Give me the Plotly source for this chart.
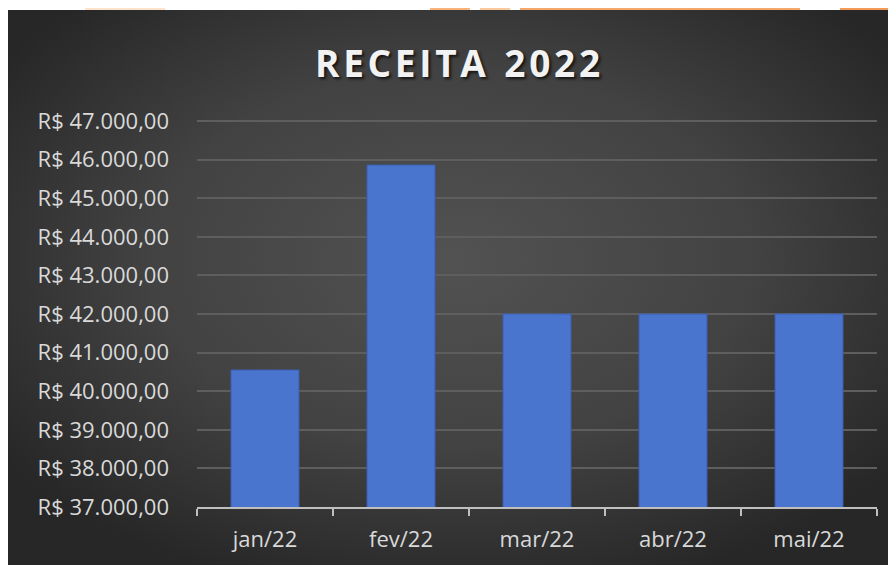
import base64
import plotly.graph_objects as go

# ---- data ----
months = ["jan/22", "fev/22", "mar/22", "abr/22", "mai/22"]
receita = [40550, 45860, 42000, 42000, 42000]
title_text = "RECEITA 2022"
y_min, y_max, y_step = 37000, 47000, 1000

# page has an 8px body margin; work in reference pixel coords and shift
OFF = 8
PAD = 4  # px of headroom above the top gridline
W, H = 896 - OFF, 565 - OFF
L, R, T, B = 197 - OFF, 896 - 877, 121 - OFF - PAD, 565 - 507
pw, ph = W - L - R, H - T - B
y_top = y_max + PAD * (y_max - y_min) / (ph - PAD)


def px_x(x):
    return (x - OFF - L) / pw


def px_y(y):
    return (H - B - (y - OFF)) / ph


svg = (
    '<svg xmlns="http://www.w3.org/2000/svg" width="888" height="555" preserveAspectRatio="none">'
    '<defs><radialGradient id="g" cx="50%" cy="45%" r="62%" fx="50%" fy="45%">'
    '<stop offset="0%" stop-color="#525252"/>'
    '<stop offset="55%" stop-color="#424242"/>'
    '<stop offset="100%" stop-color="#272727"/>'
    '</radialGradient></defs>'
    '<rect width="888" height="555" fill="url(#g)"/></svg>'
)
src = "data:image/svg+xml;base64," + base64.b64encode(svg.encode()).decode()

fig = go.Figure()
fig.add_trace(go.Bar(
    x=months, y=receita,
    marker=dict(color="#4a75cf", line=dict(color="#3a5fae", width=1)),
    hoverinfo="x+y",
))

shapes = []
deco = [
    (85, 8, 165, 10, "#fde2cc"),
    (430, 8, 470, 10, "#f9b27a"),
    (480, 8, 510, 10, "#fbc79c"),
    (520, 8, 800, 10, "#f7a76a"),
    (840, 8, 896, 10, "#f59a55"),
]
for x0, y0, x1, y1, c in deco:
    shapes.append(dict(type="rect", xref="paper", yref="paper",
                       x0=px_x(x0), x1=px_x(x1), y0=px_y(y1), y1=px_y(y0),
                       fillcolor=c, line=dict(width=0), layer="below"))

spaced = "\u200a".join(list(title_text)).replace("\u200a \u200a", "\u2002")

fig.update_layout(
    width=W, height=H,
    margin=dict(l=L, r=R, t=T, b=B),
    paper_bgcolor="white",
    plot_bgcolor="rgba(0,0,0,0)",
    separators=",.",
    bargap=0.5,
    showlegend=False,
    shapes=shapes,
    images=[dict(source=src, xref="paper", yref="paper",
                 x=px_x(8), y=px_y(10), sizex=px_x(896) - px_x(8),
                 sizey=px_y(10) - px_y(565), xanchor="left", yanchor="top",
                 sizing="stretch", layer="below")],
    annotations=[dict(
        text=spaced,
        xref="paper", yref="paper", x=px_x(457), y=px_y(62),
        xanchor="center", yanchor="middle", showarrow=False,
        font=dict(family="Open Sans", size=37, color="#f2f2f2", weight="bold",
                  shadow="2px 2px 3px rgba(0,0,0,0.7)"),
    )],
    xaxis=dict(
        showgrid=False, showline=True, linecolor="#bfbfbf", linewidth=2,
        ticks="outside", tickson="boundaries", ticklen=7, tickwidth=2,
        tickcolor="#bfbfbf",
        tickfont=dict(family="Open Sans", size=22, color="#d9d9d9"),
        ticklabelstandoff=12,
    ),
    yaxis=dict(
        range=[y_min, y_top], dtick=y_step, tick0=y_min,
        tickprefix="R$ ", tickformat=",.2f",
        showgrid=True, gridcolor="#5e5e5e", gridwidth=1.5,
        zeroline=False, showline=False,
        tickfont=dict(family="Open Sans", size=22, color="#d9d9d9"),
        ticklabelstandoff=27,
    ),
)

fig.write_html("out.html")
